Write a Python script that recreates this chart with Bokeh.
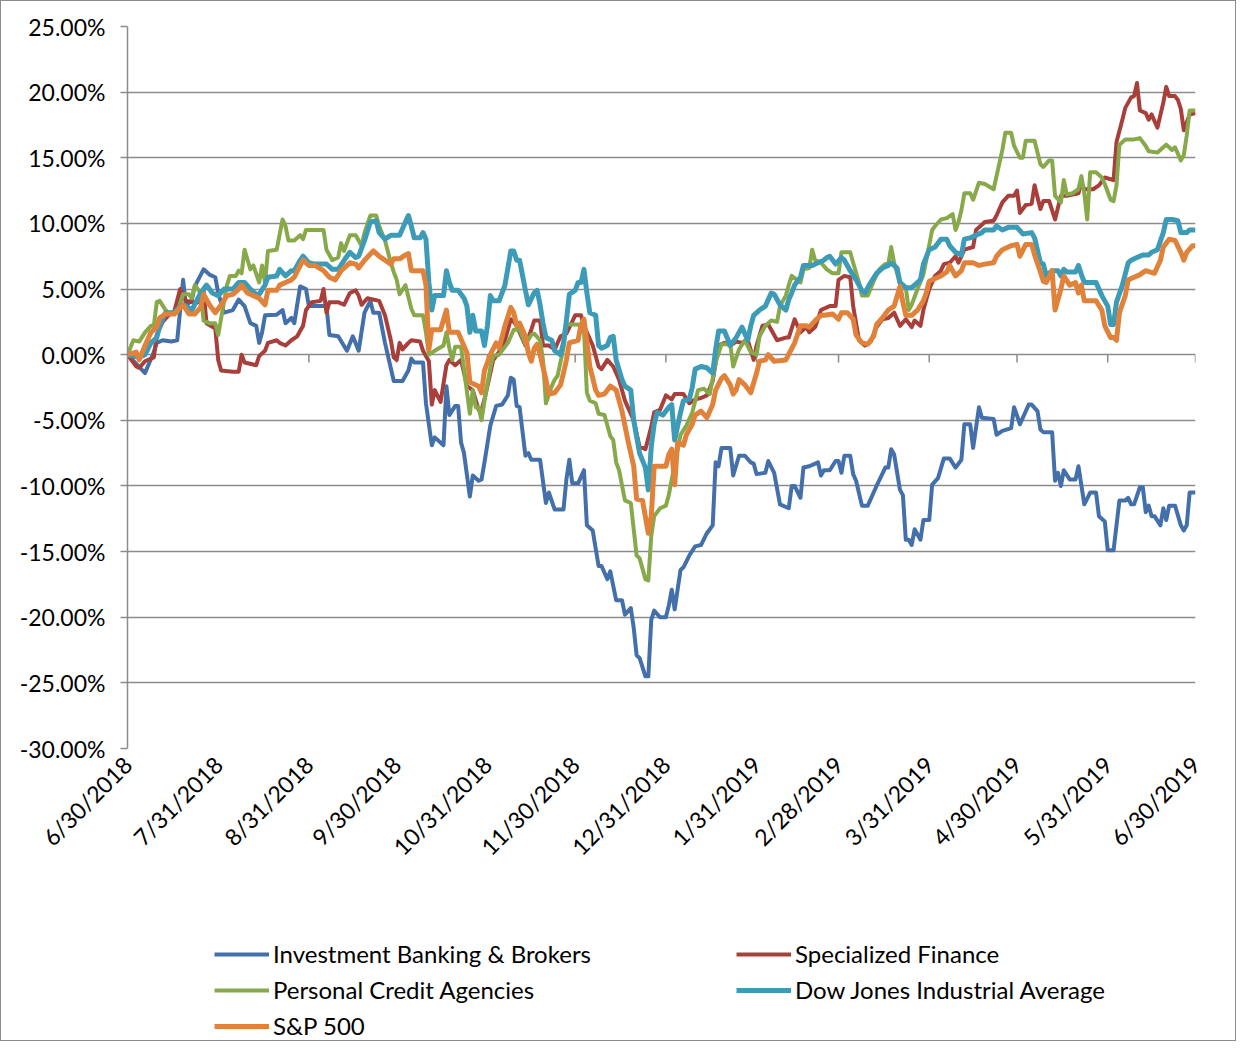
import math
import pandas as pd
from bokeh.plotting import figure
from bokeh.layouts import column
from bokeh.models import Range1d, FixedTicker, PrintfTickFormatter, Legend, LegendItem
from bokeh.embed import file_html
from bokeh.resources import INLINE

# ---------------- data ----------------
start_date = "2018-06-30"
month_end_labels = ["6/30/2018", "7/31/2018", "8/31/2018", "9/30/2018", "10/31/2018",
                    "11/30/2018", "12/31/2018", "1/31/2019", "2/28/2019", "3/31/2019",
                    "4/30/2019", "5/31/2019", "6/30/2019"]
y_ticks = [-30, -25, -20, -15, -10, -5, 0, 5, 10, 15, 20, 25]

series_names = ["Investment Banking & Brokers", "Specialized Finance",
                "Personal Credit Agencies", "Dow Jones Industrial Average", "S&P 500"]

# (days since 6/30/2018, cumulative return in %)
ibb = [(0,0.0),(6,-1.4),(9,0.2),(10,0.9),(12,1.1),(15,1.0),(17,1.1),(19,5.7),(20,3.7),(22,4.2),(23,5.2),(26,6.5),(28,6.1),(30,5.9),(31,4.7),(33,3.2),(36,3.4),(38,4.2),(40,3.7),(42,2.4),(44,2.2),(45,0.9),(46,1.7),(47,3.0),(51,3.05),(53,3.4),(54,2.4),(56,2.8),(57,2.4),(59,5.2),(61,5.0),(62,3.7),(68,3.7),(69,1.5),(72,1.4),(75,0.3),(77,1.4),(79,0.3),(81,3.2),(83,4.1),(84,3.2),(86,3.2),(88,0.9),(91,-2.0),(94,-2.0),(96,-1.2),(97,-0.3),(98,-0.6),(101,-0.6),(102,-3.7),(104,-6.9),(105,-6.3),(108,-6.9),(109,-2.4),(110,-4.6),(112,-3.9),(113,-3.9),(114,-6.7),(115,-7.5),(117,-10.8),(118,-9.2),(120,-9.6),(121,-9.5),(122,-8.2),(124,-5.4),(126,-3.9),(128,-3.8),(130,-3.1),(131,-1.75),(132,-1.9),(133,-3.9),(134,-4.0),(136,-7.7),(137,-7.5),(138,-8.0),(141,-8.0),(143,-11.3),(144,-10.5),(146,-11.8),(149,-11.8),(150,-9.5),(151,-8.0),(152,-9.8),(154,-9.8),(156,-8.8),(157,-13.0),(159,-13.4),(161,-16.1),(162,-16.1),(164,-17.1),(165,-16.5),(167,-18.7),(169,-18.7),(170,-19.8),(172,-19.3),(173,-20.8),(174,-22.9),(175,-23.1),(177,-24.5),(178,-24.5),(179,-20.2),(180,-19.5),(182,-20.0),(184,-20.0),(185,-19.1),(186,-17.9),(187,-19.4),(189,-16.4),(190,-16.2),(192,-15.3),(194,-14.6),(196,-14.5),(198,-13.6),(200,-13.0),(201,-8.2),(202,-8.5),(203,-7.1),(206,-7.1),(207,-9.2),(209,-7.7),(211,-7.7),(213,-8.2),(214,-8.3),(215,-9.1),(218,-9.0),(219,-8.1),(221,-9.0),(223,-11.4),(226,-11.7),(227,-10.0),(228,-10.0),(230,-10.9),(231,-8.6),(233,-8.5),(236,-8.2),(237,-9.2),(238,-8.8),(240,-8.8),(242,-8.1),(243,-8.1),(244,-9.0),(245,-7.7),(247,-7.7),(248,-9.1),(249,-9.6),(251,-11.5),(253,-11.5),(255,-10.5),(256,-10.0),(259,-8.6),(260,-8.6),(261,-7.2),(262,-7.6),(264,-10.3),(265,-10.7),(266,-14.1),(267,-14.1),(268,-14.5),(269,-13.3),(271,-14.1),(272,-12.6),(274,-12.6),(275,-9.9),(277,-9.4),(279,-7.9),(281,-7.9),(283,-8.6),(285,-8.0),(286,-5.3),(288,-5.3),(289,-7.1),(291,-4.0),(292,-4.8),(296,-4.9),(297,-6.1),(299,-5.8),(302,-5.6),(303,-4.0),(305,-5.3),(308,-3.8),(309,-3.8),(311,-4.3),(312,-5.7),(313,-5.9),(316,-5.9),(317,-9.6),(318,-9.0),(319,-10.0),(320,-8.8),(322,-9.5),(324,-9.5),(325,-8.5),(327,-11.4),(329,-10.5),(331,-10.5),(332,-12.3),(334,-12.7),(335,-14.9),(337,-14.9),(339,-11.1),(341,-11.1),(342,-10.9),(343,-11.4),(344,-11.4),(346,-10.1),(347,-10.1),(348,-12.0),(349,-11.5),(350,-12.3),(351,-12.3),(353,-13.0),(354,-11.7),(355,-12.6),(356,-11.5),(358,-11.5),(360,-13.0),(361,-13.4),(362,-13.0),(363,-10.5),(365,-10.5)]

spec_fin = [(0,0.0),(3,-0.9),(4,-1.0),(6,-0.5),(9,-0.2),(10,1.5),(12,2.5),(14,3.0),(16,3.3),(18,5.0),(20,4.1),(22,4.0),(25,4.0),(26,4.9),(27,2.4),(30,2.0),(31,-0.4),(32,-1.2),(36,-1.3),(38,-1.3),(39,0.0),(40,-0.6),(44,-0.8),(45,-0.1),(47,0.3),(48,0.9),(51,1.1),(52,0.9),(54,0.7),(56,1.1),(58,1.4),(60,2.2),(61,3.4),(63,4.0),(66,4.1),(67,5.0),(68,3.2),(69,4.0),(72,4.0),(74,3.8),(76,4.7),(78,4.9),(79,4.5),(80,3.8),(82,4.3),(86,4.1),(88,3.0),(90,1.1),(91,-0.2),(92,-0.4),(93,0.9),(94,0.4),(96,0.9),(97,1.1),(100,1.0),(101,0.3),(103,-0.5),(104,-3.8),(105,-2.7),(107,-3.6),(109,-0.8),(110,-0.4),(112,-0.8),(114,-0.4),(116,-2.4),(118,-2.7),(120,-4.2),(121,-4.2),(122,-3.4),(124,-1.4),(125,-0.4),(127,0.2),(129,1.1),(131,2.7),(132,2.5),(133,2.2),(134,1.7),(136,0.7),(138,1.9),(139,2.6),(141,2.6),(142,0.7),(144,0.7),(146,0.4),(148,1.4),(150,1.6),(153,3.0),(155,3.0),(156,2.2),(159,0.7),(161,-0.9),(162,-1.1),(164,-0.4),(166,-0.9),(168,-1.9),(170,-3.5),(173,-5.0),(175,-7.0),(177,-7.2),(179,-5.5),(180,-4.4),(182,-4.2),(184,-3.1),(186,-3.4),(187,-3.0),(190,-3.0),(192,-3.7),(194,-3.4),(196,-3.3),(198,-3.1),(200,-2.0),(202,0.7),(204,0.9),(206,0.7),(208,1.0),(210,0.9),(212,1.1),(214,-0.4),(215,0.7),(217,2.2),(219,2.3),(220,1.9),(222,1.1),(225,1.3),(226,1.3),(228,2.7),(230,1.7),(232,2.1),(233,1.7),(235,2.1),(237,3.4),(240,3.7),(242,3.7),(243,5.7),(245,6.0),(247,5.9),(248,3.7),(250,1.1),(252,0.7),(254,1.0),(256,2.1),(258,2.7),(260,2.8),(262,3.2),(264,2.2),(266,2.7),(268,2.1),(269,2.6),(271,2.2),(272,3.4),(274,5.0),(276,6.0),(278,6.4),(279,6.9),(281,7.0),(283,7.5),(284,7.0),(286,8.0),(289,8.2),(290,9.5),(293,10.1),(296,10.2),(297,10.6),(299,11.6),(301,12.1),(303,12.1),(304,12.5),(305,10.8),(307,11.4),(309,11.5),(310,12.9),(312,11.1),(313,11.7),(315,11.7),(317,10.3),(319,12.1),(321,12.1),(323,12.2),(325,12.3),(326,13.1),(327,12.6),(330,12.6),(332,12.9),(334,13.5),(337,13.3),(338,16.2),(340,17.9),(341,18.8),(343,19.6),(344,19.7),(345,20.7),(346,18.6),(348,18.4),(349,17.9),(350,18.3),(352,17.3),(354,19.2),(355,20.4),(356,19.7),(358,19.7),(359,19.4),(360,18.7),(361,17.1),(363,18.3),(365,18.4)]

pers_credit = [(0,0.0),(2,1.1),(4,1.0),(6,1.7),(8,2.2),(9,2.2),(10,4.0),(11,4.1),(13,3.4),(14,3.2),(17,3.2),(19,4.6),(21,4.6),(22,4.3),(23,5.3),(25,4.7),(26,2.6),(28,2.4),(30,2.4),(31,1.5),(34,5.3),(35,6.0),(37,6.0),(38,6.4),(39,6.2),(40,8.0),(42,6.5),(43,6.8),(45,5.5),(46,6.8),(47,5.5),(48,7.9),(51,8.0),(53,10.3),(54,9.8),(55,8.7),(57,8.7),(59,9.1),(60,8.8),(61,9.5),(64,9.5),(67,9.5),(68,8.0),(70,7.2),(72,7.4),(73,8.5),(74,7.9),(76,9.1),(78,9.1),(80,8.3),(81,9.3),(83,10.6),(85,10.6),(86,9.8),(88,8.7),(90,7.0),(91,6.3),(92,5.7),(93,4.6),(95,5.3),(97,3.5),(98,3.0),(101,3.0),(102,1.7),(103,0.0),(105,0.3),(108,0.7),(109,1.7),(110,0.5),(111,-0.4),(112,0.6),(114,0.6),(115,-1.1),(117,-4.5),(118,-2.7),(119,-4.0),(120,-4.0),(121,-5.0),(122,-3.5),(124,-1.0),(125,-0.1),(127,0.0),(130,0.9),(132,1.9),(134,1.9),(136,0.8),(138,1.5),(139,1.6),(141,1.1),(142,-0.4),(143,-3.7),(145,-2.4),(146,-1.9),(147,-1.6),(149,0.5),(150,2.3),(154,2.3),(156,1.9),(157,-2.9),(158,-3.5),(160,-3.7),(161,-4.5),(163,-4.6),(165,-6.2),(166,-6.5),(167,-8.2),(168,-8.8),(170,-11.1),(172,-11.3),(173,-13.3),(174,-15.3),(175,-15.5),(177,-17.1),(178,-17.2),(179,-13.8),(180,-12.3),(182,-11.7),(184,-11.5),(185,-10.7),(186,-9.5),(189,-6.1),(191,-5.4),(193,-4.4),(195,-2.7),(197,-2.6),(199,-3.0),(201,-0.6),(203,0.8),(206,0.8),(207,-0.9),(209,0.4),(211,1.1),(213,0.2),(215,0.0),(216,1.4),(218,2.2),(220,2.6),(222,2.5),(223,3.7),(225,4.5),(226,5.3),(227,6.0),(230,5.5),(231,6.5),(233,6.6),(234,8.0),(235,7.2),(237,7.0),(239,6.5),(241,6.2),(243,6.2),(244,7.8),(247,7.8),(248,7.0),(250,5.5),(251,4.5),(253,4.5),(255,5.6),(257,6.5),(259,6.9),(260,6.9),(261,8.2),(262,7.0),(264,5.4),(266,5.1),(267,3.4),(268,3.8),(270,5.0),(272,6.1),(273,7.2),(275,9.5),(276,9.8),(278,10.3),(280,10.4),(282,10.7),(283,9.5),(284,10.1),(285,11.0),(286,12.3),(288,12.3),(289,11.8),(291,13.1),(293,13.0),(296,12.6),(297,13.6),(299,15.6),(300,16.9),(302,16.9),(303,15.9),(305,15.0),(306,15.0),(307,16.3),(310,16.3),(312,14.5),(313,14.3),(315,14.8),(316,14.8),(317,12.1),(319,11.6),(320,13.3),(321,12.2),(323,12.3),(325,12.6),(326,13.6),(327,12.3),(328,10.3),(329,13.9),(331,13.9),(333,13.5),(334,13.0),(336,11.8),(337,11.7),(338,12.9),(339,16.0),(341,16.4),(344,16.4),(346,16.5),(348,15.9),(349,15.5),(352,15.4),(354,15.8),(355,16.0),(357,15.6),(358,15.8),(360,14.8),(361,15.2),(362,16.7),(363,18.6),(365,18.6)]

djia = [(0,0.0),(4,-0.2),(6,0.0),(8,0.9),(10,1.3),(11,2.2),(13,3.2),(16,3.2),(18,3.7),(20,3.7),(22,3.4),(25,4.7),(27,5.3),(29,4.7),(31,4.5),(33,5.0),(36,5.0),(38,5.5),(40,5.5),(42,5.0),(44,4.6),(45,4.6),(47,5.3),(48,5.9),(51,6.0),(52,6.5),(54,6.0),(56,6.4),(57,6.4),(59,7.2),(60,7.5),(62,7.0),(64,6.9),(68,6.9),(70,6.5),(72,6.5),(75,7.5),(76,7.8),(78,7.4),(79,7.5),(81,8.7),(83,10.1),(85,10.2),(86,9.3),(88,8.8),(90,9.1),(93,9.1),(95,10.1),(96,10.6),(97,9.8),(98,8.9),(100,8.9),(101,9.3),(102,8.8),(103,5.5),(104,3.4),(105,4.5),(108,4.5),(109,6.4),(110,5.5),(111,4.9),(113,4.9),(115,4.3),(116,3.7),(117,1.7),(118,3.0),(119,1.8),(121,1.8),(122,0.7),(123,2.2),(124,4.5),(125,4.1),(127,4.1),(129,5.3),(131,7.9),(132,7.9),(133,7.2),(134,7.2),(136,4.9),(137,3.8),(139,4.7),(140,4.9),(141,3.8),(142,2.4),(143,1.3),(145,1.1),(146,0.3),(148,0.0),(149,0.9),(150,2.6),(151,4.6),(153,4.9),(154,5.5),(155,5.5),(156,6.5),(157,4.7),(158,3.2),(160,3.0),(161,0.7),(162,0.5),(164,0.7),(165,1.3),(166,1.4),(167,-0.4),(169,-1.9),(170,-2.4),(172,-2.7),(173,-5.0),(175,-7.5),(177,-8.6),(178,-10.3),(179,-7.0),(180,-5.3),(181,-4.4),(183,-4.6),(185,-4.0),(186,-3.8),(187,-6.5),(189,-4.4),(190,-3.5),(192,-3.4),(193,-2.5),(194,-1.1),(196,-0.9),(198,-1.0),(200,-1.4),(201,0.4),(202,1.8),(204,1.8),(206,0.7),(208,1.3),(210,2.1),(212,1.1),(213,2.2),(214,3.0),(216,3.4),(218,3.7),(220,4.7),(221,4.6),(223,3.8),(225,3.4),(226,4.2),(227,4.7),(228,5.3),(230,5.9),(231,6.8),(234,6.8),(236,7.0),(238,7.2),(239,7.4),(240,7.5),(242,6.9),(244,7.4),(245,7.2),(247,6.4),(249,5.7),(251,4.9),(252,4.7),(254,5.5),(256,6.2),(258,6.6),(260,6.8),(261,7.0),(263,6.6),(264,5.5),(266,5.1),(268,5.1),(271,5.7),(272,6.9),(274,8.0),(276,8.2),(278,8.8),(280,8.8),(281,8.3),(283,7.8),(285,7.6),(286,8.8),(288,8.9),(290,9.1),(292,9.3),(293,9.5),(296,9.5),(297,9.8),(299,9.5),(301,9.7),(304,9.7),(306,9.2),(309,9.3),(310,8.9),(312,7.0),(313,6.9),(314,6.0),(316,6.4),(318,6.4),(319,6.0),(320,6.5),(321,6.3),(324,6.3),(325,6.8),(326,6.1),(327,5.5),(331,5.5),(333,4.5),(335,3.7),(336,2.3),(337,2.3),(338,4.0),(340,5.3),(342,7.0),(343,7.2),(345,7.4),(347,7.6),(349,7.6),(350,7.8),(352,8.0),(354,9.3),(355,10.3),(357,10.3),(359,10.2),(360,9.3),(362,9.3),(363,9.5),(365,9.5)]

sp500 = [(0,0.0),(3,0.2),(4,-0.4),(6,0.7),(8,1.7),(10,2.1),(11,2.8),(13,3.1),(16,3.1),(18,3.6),(19,3.8),(21,3.1),(23,3.1),(25,3.6),(26,4.6),(28,3.8),(30,3.2),(32,3.8),(34,4.5),(36,4.6),(38,5.0),(39,5.3),(41,4.7),(43,4.5),(45,4.3),(47,3.8),(48,4.9),(51,4.9),(52,5.3),(54,5.5),(56,5.7),(57,5.9),(60,7.2),(62,6.8),(64,6.8),(67,6.4),(69,5.9),(71,5.7),(73,6.4),(76,7.0),(78,6.9),(79,6.6),(81,7.2),(84,7.9),(86,7.5),(88,7.2),(90,6.9),(91,7.3),(93,7.3),(95,7.6),(96,7.7),(97,6.4),(101,6.4),(102,5.3),(103,0.4),(104,1.9),(107,1.9),(109,3.4),(110,1.7),(113,1.7),(116,0.15),(117,-2.1),(120,-2.4),(121,-2.9),(122,-1.2),(124,0.0),(126,0.9),(127,0.5),(129,2.2),(131,3.6),(132,3.2),(133,2.2),(134,2.4),(136,1.4),(137,0.15),(138,-0.5),(139,0.5),(140,0.8),(141,0.0),(143,-1.9),(144,-3.0),(146,-2.9),(148,-2.3),(149,-1.4),(150,-0.4),(151,0.9),(154,1.1),(155,2.3),(156,2.7),(157,1.0),(158,-0.9),(160,-2.7),(161,-3.1),(163,-3.0),(165,-2.4),(167,-2.7),(169,-4.3),(171,-6.5),(173,-8.5),(174,-11.0),(176,-11.1),(178,-13.6),(179,-12.3),(180,-8.5),(184,-8.5),(185,-7.6),(186,-7.2),(187,-9.9),(188,-6.7),(190,-6.9),(191,-6.1),(193,-5.3),(194,-4.6),(196,-4.3),(198,-4.8),(200,-3.8),(201,-2.7),(203,-1.8),(204,-1.6),(206,-2.3),(207,-3.0),(208,-2.7),(209,-1.9),(211,-2.3),(213,-2.9),(215,-1.4),(216,-0.5),(218,-0.4),(219,0.0),(221,-0.5),(225,-0.4),(228,0.9),(230,2.2),(232,2.2),(233,2.1),(235,2.6),(237,3.0),(238,3.0),(241,3.1),(243,2.7),(244,3.2),(246,3.2),(248,2.7),(249,1.5),(251,0.9),(253,0.8),(255,1.4),(256,2.3),(258,2.8),(260,3.4),(262,3.7),(264,5.2),(265,4.0),(266,3.0),(268,3.0),(270,3.4),(272,4.1),(273,4.7),(274,5.6),(278,6.0),(280,6.3),(281,6.8),(283,6.0),(285,6.4),(286,7.0),(289,7.0),(291,6.8),(293,6.9),(296,7.0),(297,7.5),(299,8.0),(301,8.2),(302,8.3),(304,8.4),(305,7.5),(307,8.4),(309,8.4),(310,7.6),(312,6.3),(313,5.6),(314,5.5),(316,6.4),(317,3.4),(319,5.0),(320,6.0),(322,5.3),(324,5.5),(325,4.7),(326,5.3),(327,4.1),(331,4.1),(333,3.4),(334,2.2),(336,1.3),(337,1.3),(338,1.1),(339,3.2),(341,4.5),(342,5.7),(344,5.9),(346,6.1),(348,6.4),(351,6.2),(353,7.2),(354,8.2),(356,8.8),(358,8.7),(360,7.8),(361,7.2),(362,7.8),(364,8.3),(365,8.3)]

series_data = [ibb, spec_fin, pers_credit, djia, sp500]
series_colors = ["#4370AA", "#A83F3B", "#88A94A", "#3C9BB7", "#E0823A"]
series_widths = [4, 4, 4, 5, 5]

# ---------------- main chart ----------------
t0 = pd.Timestamp(start_date)
tick_days = [int((pd.to_datetime(s, format="%m/%d/%Y") - t0).days) for s in month_end_labels]

FONT = "Lato"
GRID = "#8C8C8C"
FS = "23px"

p = figure(width=1234, height=928, output_backend="svg", toolbar_location=None,
           x_range=Range1d(tick_days[0], tick_days[-1]),
           y_range=Range1d(y_ticks[0], y_ticks[-1]),
           min_border_left=126, min_border_right=40, min_border_top=25, min_border_bottom=181)
p.outline_line_color = None
p.background_fill_color = "white"
p.border_fill_color = "white"

# x axis (labels only, at the bottom)
p.xaxis.ticker = FixedTicker(ticks=tick_days)
p.xaxis.major_label_overrides = {d: s for d, s in zip(tick_days, month_end_labels)}
p.xaxis.major_label_orientation = math.pi / 4
p.xaxis.axis_line_color = None
p.xaxis.major_tick_line_color = None
p.xaxis.major_tick_out = 0
p.xaxis.major_tick_in = 0
p.xaxis.minor_tick_line_color = None
p.xaxis.major_label_standoff = 12
p.xaxis.major_label_text_font = FONT
p.xaxis.major_label_text_font_size = FS
p.xaxis.major_label_text_color = "black"
p.xgrid.visible = False

# y axis
p.yaxis.ticker = FixedTicker(ticks=y_ticks)
p.yaxis.formatter = PrintfTickFormatter(format="%.2f%%")
p.yaxis.axis_line_color = GRID
p.yaxis.axis_line_width = 1.5
p.yaxis.major_tick_line_color = GRID
p.yaxis.major_tick_line_width = 1.5
p.yaxis.major_tick_out = 7
p.yaxis.major_tick_in = 0
p.yaxis.minor_tick_line_color = None
p.yaxis.major_label_standoff = 15
p.yaxis.major_label_text_font = FONT
p.yaxis.major_label_text_font_size = FS
p.yaxis.major_label_text_color = "black"
p.ygrid.grid_line_color = GRID
p.ygrid.grid_line_width = 1.5

# tick marks on the zero line (category axis crossing at 0%)
p.segment(x0=tick_days, y0=[0] * len(tick_days), x1=tick_days, y1=[-0.6] * len(tick_days),
          line_color=GRID, line_width=1.5)

for name, pts, col, w in zip(series_names, series_data, series_colors, series_widths):
    xs = [d for d, v in pts]
    ys = [v for d, v in pts]
    p.line(xs, ys, line_color=col, line_width=w, line_join="round")

# ---------------- legend strip ----------------
lg = figure(width=1234, height=111, output_backend="svg", toolbar_location=None,
            x_range=Range1d(0, 1), y_range=Range1d(0, 1),
            x_axis_type=None, y_axis_type=None,
            min_border_left=0, min_border_right=0, min_border_top=0, min_border_bottom=0)
lg.outline_line_color = None
lg.xgrid.visible = False
lg.ygrid.visible = False

nan = float("nan")
items = []
for name, col, w in zip(series_names, series_colors, series_widths):
    r = lg.line(x=[nan], y=[nan], line_color=col, line_width=w)
    items.append(LegendItem(label=name, renderers=[r]))

# the strip's frame is aligned with the chart frame above, so x is measured from it
legend = Legend(items=items, location=(87, 0), orientation="horizontal", ncols=2,
                glyph_width=55, glyph_height=28, label_standoff=4, label_width=456,
                spacing=7, padding=0, margin=0, border_line_color=None,
                background_fill_alpha=0,
                label_text_font=FONT, label_text_font_size="24px", label_text_color="black")
lg.add_layout(legend)

layout = column(p, lg, spacing=0)
layout.styles = {"border": "1px solid #8C8C8C"}

open("out.html", "w").write(file_html(layout, INLINE))
